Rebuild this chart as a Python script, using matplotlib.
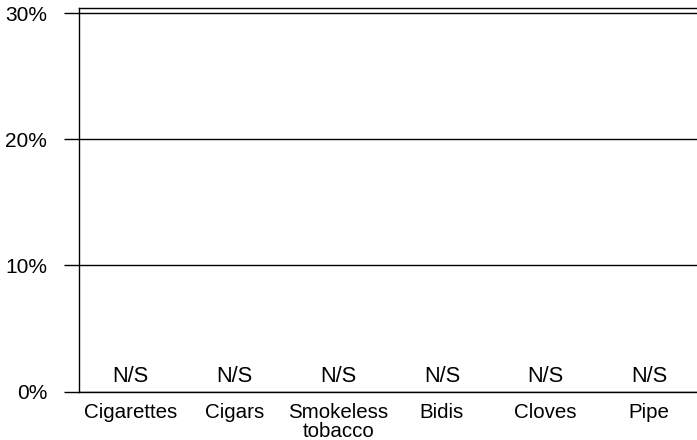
import matplotlib
matplotlib.use("Agg")
import matplotlib.pyplot as plt
from matplotlib.ticker import FuncFormatter

plt.rcParams['font.family'] = ['Liberation Sans', 'DejaVu Sans']

categories = ["Cigarettes", "Cigars", "Smokeless\ntobacco", "Bidis", "Cloves", "Pipe"]
values = [0, 0, 0, 0, 0, 0]
value_labels = ["N/S", "N/S", "N/S", "N/S", "N/S", "N/S"]
yticks = [0, 10, 20, 30]

W, H = 697, 440
fig = plt.figure(figsize=(W / 100, H / 100), dpi=100)
left, right, bottom, top = 79, 697, 391.5, 8.5
ax = fig.add_axes([left / W, 1 - bottom / H, (right - left) / W, (bottom - top) / H])

x = list(range(len(categories)))
ax.bar(x, values, width=0.5, color="#000000")

ax.set_xlim(-0.5, 5.46)
ax.set_ylim(0, 30.36)

ax.set_yticks(yticks)
ax.yaxis.set_major_formatter(FuncFormatter(lambda v, p: f"{int(v)}%"))
ax.tick_params(axis="y", length=11, width=1, pad=12, labelsize=15, color="black")
ax.yaxis.grid(True, color="black", linewidth=1)
ax.set_axisbelow(True)

ax.set_xticks(x)
ax.set_xticklabels(categories, fontsize=14.8, linespacing=1.0)
ax.tick_params(axis="x", length=0, pad=8)

for xi, v, lab in zip(x, values, value_labels):
    ax.annotate(lab, (xi, v), xytext=(0, 7), textcoords="offset points",
                ha="center", va="baseline", fontsize=15.7)

ax.spines["right"].set_visible(False)
for s in ("left", "bottom", "top"):
    ax.spines[s].set_color("black")
    ax.spines[s].set_linewidth(1)

fig.savefig("out.png", dpi=100)
